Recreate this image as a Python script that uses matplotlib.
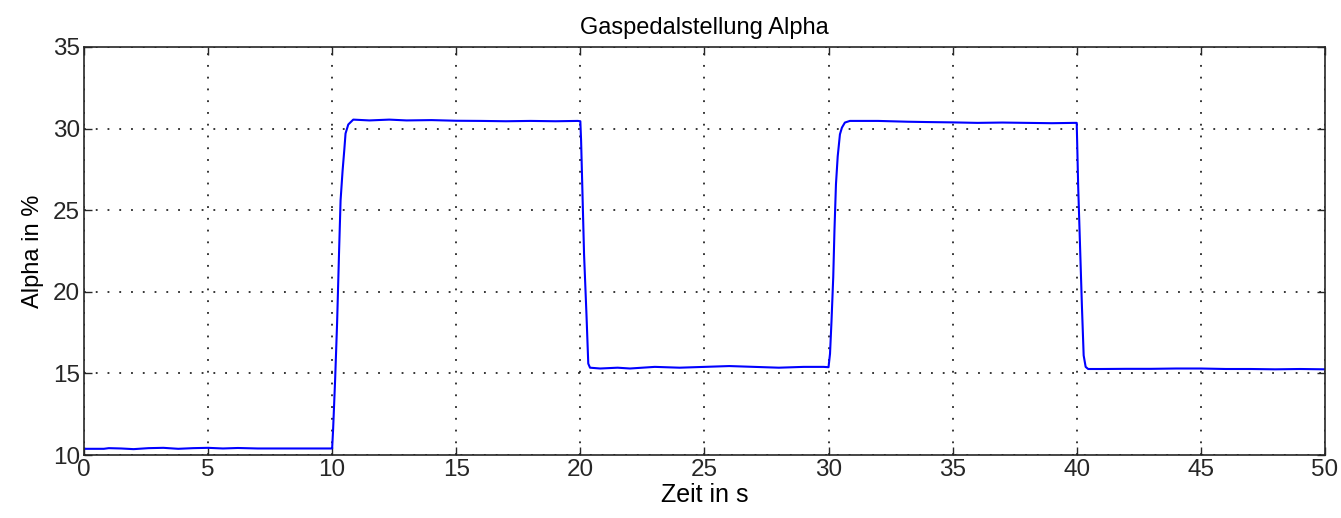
import matplotlib
matplotlib.use("Agg")
import matplotlib.pyplot as plt

# Zeitpunkte (s) und Gaspedalstellung (%)
zeit = [0.0, 0.8, 1.0, 1.5, 2.0, 2.6, 3.2, 3.8, 4.4, 5.0, 5.6, 6.2, 7.0, 8.0, 9.0, 9.98,
        10.0, 10.04, 10.12, 10.2, 10.28, 10.34, 10.42, 10.49, 10.54, 10.65, 10.85,
        11.5, 12.3, 13.0, 14.0, 15.0, 16.0, 17.0, 18.0, 19.0, 19.9, 20.0,
        20.03, 20.08, 20.15, 20.25, 20.32, 20.39, 20.8, 21.5, 22.0, 23.0, 24.0, 25.0,
        26.0, 27.0, 28.0, 29.0, 29.8, 30.0,
        30.06, 30.12, 30.19, 30.24, 30.30, 30.37, 30.46, 30.54, 30.66, 30.86,
        32.0, 33.2, 34.0, 35.0, 36.0, 37.0, 38.0, 39.0, 39.9, 40.0,
        40.06, 40.13, 40.21, 40.28, 40.36, 40.46, 41.0, 42.0, 43.0, 44.0, 45.0,
        46.0, 47.0, 48.0, 49.0, 50.0]
alpha = [10.38, 10.38, 10.42, 10.40, 10.36, 10.42, 10.44, 10.38, 10.42, 10.44, 10.40, 10.43, 10.40, 10.40, 10.40, 10.40,
         10.40, 11.6, 14.6, 18.1, 22.5, 25.6, 27.4, 28.7, 29.7, 30.25, 30.55,
         30.50, 30.55, 30.50, 30.52, 30.48, 30.47, 30.45, 30.47, 30.45, 30.47, 30.45,
         29.3, 26.4, 22.3, 18.5, 15.6, 15.35, 15.30, 15.35, 15.30, 15.40, 15.35, 15.40,
         15.45, 15.40, 15.35, 15.40, 15.40, 15.38,
         16.2, 18.2, 20.9, 23.8, 26.6, 28.3, 29.65, 30.06, 30.37, 30.47,
         30.47, 30.42, 30.40, 30.38, 30.35, 30.37, 30.35, 30.33, 30.35, 30.35,
         26.4, 23.0, 19.1, 16.1, 15.4, 15.27, 15.27, 15.28, 15.28, 15.30, 15.30,
         15.27, 15.27, 15.25, 15.27, 15.25]

x_ticks = [0, 5, 10, 15, 20, 25, 30, 35, 40, 45, 50]
y_ticks = [10, 15, 20, 25, 30, 35]

plt.rcParams['font.family'] = ['Liberation Sans', 'DejaVu Sans']

fig = plt.figure(figsize=(13.41, 5.18), dpi=100)
ax = fig.add_axes([0.0626, 0.1216, 0.9254, 0.7877])

ax.plot(zeit, alpha, color='#0000ff', linewidth=1.5)

ax.set_xlim(0, 50)
ax.set_ylim(10, 35)
ax.set_xticks(x_ticks)
ax.set_yticks(y_ticks)
ax.tick_params(direction='in', top=True, right=True, length=6, width=1,
               labelsize=17.5, colors='#262626', pad=3)
ax.grid(True, color='black', linestyle=(0, (1.2, 6.5)), linewidth=1.1)
for sp in ax.spines.values():
    sp.set_linewidth(1.2)
    sp.set_color('#262626')

ax.set_title('Gaspedalstellung Alpha', fontsize=17, pad=9)
ax.set_xlabel('Zeit in s', fontsize=18, labelpad=1)
ax.set_ylabel('Alpha in %', fontsize=17, labelpad=6)

fig.savefig('out.png', dpi=100)
